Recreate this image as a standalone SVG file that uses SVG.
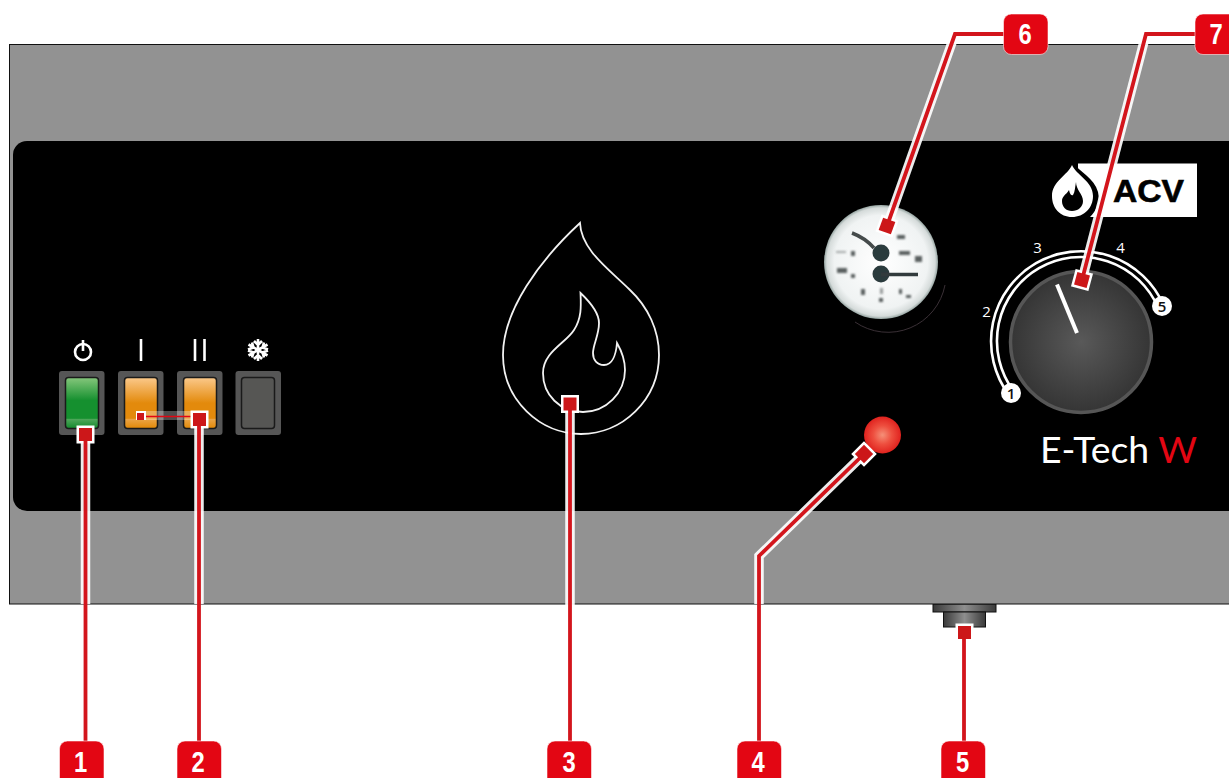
<svg xmlns="http://www.w3.org/2000/svg" width="1229" height="778" viewBox="0 0 1229 778">
<style>
.sw{fill:#565656}
.in{stroke:#1a1a1a;stroke-width:1.5}
.sym{fill:none;stroke:#fff;stroke-width:2.6}
.halo{fill:none;stroke:#fff;stroke-width:9.500;opacity:.92;filter:url(#soft)}
.ln{fill:none;stroke:#d3151c;stroke-width:3.800}
.sq{fill:#cc1719}
.sqh{fill:#fff;filter:url(#soft)}
.bd{fill:#e30613;stroke:#fff;stroke-opacity:.55;stroke-width:1}
.bt{font-family:"Liberation Sans",sans-serif;font-weight:700;font-size:29px;fill:#fff;text-anchor:middle}
.num{font-family:"Open Sans","Liberation Sans",sans-serif;font-size:15px;fill:#fff;text-anchor:middle}
.numd{font-family:"Open Sans","Liberation Sans",sans-serif;font-size:15px;font-weight:600;fill:#111;text-anchor:middle}
.fl{fill:none;stroke:#f2f2f2;stroke-width:1.800}
</style>
<defs>
<filter id="soft" x="-30%" y="-30%" width="160%" height="160%"><feGaussianBlur stdDeviation=".7"/></filter>
<filter id="blur" x="-20%" y="-20%" width="140%" height="140%"><feGaussianBlur stdDeviation="1.300"/></filter>
<linearGradient id="g" x1="0" y1="0" x2="0" y2="1"><stop offset="0" stop-color="#86c77c"/><stop offset=".45" stop-color="#15902f"/><stop offset=".8" stop-color="#15902f"/><stop offset=".82" stop-color="#4ea65a"/><stop offset="1" stop-color="#12892c"/></linearGradient>
<linearGradient id="o" x1="0" y1="0" x2="0" y2="1"><stop offset="0" stop-color="#fbc98b"/><stop offset=".5" stop-color="#e38a0c"/><stop offset=".8" stop-color="#e38a0c"/><stop offset=".82" stop-color="#eba445"/><stop offset="1" stop-color="#e28805"/></linearGradient>
<radialGradient id="kn"><stop offset="0" stop-color="#595959"/><stop offset="1" stop-color="#353535"/></radialGradient>
<radialGradient id="lamp"><stop offset="0" stop-color="#f59078"/><stop offset=".5" stop-color="#ee4f3f"/><stop offset="1" stop-color="#e0221e"/></radialGradient>
<radialGradient id="gg"><stop offset="0" stop-color="#fff"/><stop offset=".82" stop-color="#f0f3f3"/><stop offset=".95" stop-color="#d5dbda"/><stop offset="1" stop-color="#96a5a2"/></radialGradient>
<linearGradient id="m" x1="0" y1="0" x2="1" y2="0"><stop offset="0" stop-color="#3a3a3a"/><stop offset=".5" stop-color="#8e8e8e"/><stop offset="1" stop-color="#3a3a3a"/></linearGradient>
</defs>
<rect width="1229" height="778" fill="#fff"/>

<g id="housing">
<rect x="933" y="604" width="63" height="8" fill="url(#m)" stroke="#111"/>
<rect x="943.500" y="612" width="42" height="15" fill="url(#m)" stroke="#111"/>
<rect x="9.500" y="44.500" width="1225" height="559.500" fill="#929292" stroke="#111" stroke-width="1"/>
<rect x="13" y="141" width="1230" height="370" rx="14" fill="#000"/>
</g>

<g id="switch-power">
<rect class="sw" x="59" y="371" width="45.500" height="64" rx="3"/>
<rect class="in" x="65.500" y="377.500" width="33" height="51" rx="3" fill="url(#g)"/>
<circle class="sym" cx="83" cy="352" r="8"/><path class="sym" d="M83 340V351"/>
</g>
<g id="switch-1">
<rect class="sw" x="118" y="371" width="45.500" height="64" rx="3"/>
<rect class="in" x="124.500" y="377.500" width="33" height="51" rx="3" fill="url(#o)"/>
<path class="sym" d="M141 339V361"/>
</g>
<g id="switch-2">
<rect class="sw" x="177" y="371" width="45.500" height="64" rx="3"/>
<rect class="in" x="183.500" y="377.500" width="33" height="51" rx="3" fill="url(#o)"/>
<path class="sym" d="M195 339V361M204.500 339V361"/>
</g>
<g id="switch-frost">
<rect class="sw" x="235.500" y="371" width="45.500" height="64" rx="3"/>
<rect class="in" x="241.500" y="377.500" width="33" height="51" rx="3" fill="#565654"/>
<path class="sym" stroke-width="2.4" d="M258 339V361M248.500 344.500L267.500 355.500M248.500 355.500L267.500 344.500M254 341L258 345L262 341M254 359L258 355L262 359M248 349.500L253.500 347.500L252 342.500M268 349.500L262.500 347.500L264 342.500M248 350.500L253.500 352.500L252 357.500M268 350.500L262.500 352.500L264 357.500"/>
</g>

<g id="flame">
<path class="fl" d="M580 223C581 250 610 270 630 290C648 307 659 330 659 355C659 400 622 434 581 434C540 434 503 400 503 355C503 310 540 260 580 223Z"/>
<path class="fl" d="M580.500 293C581 305 582 318 574 330C566 343 543 352 543 373C543 395 560 412 583 412C606 412 625 393 625 370C625 358 621 350 617 343C616 355 612 365 604 365C597 365 593 360 593 353C593 345 599 335 599 323C599 312 590 302 580.500 293Z"/>
</g>

<g id="gauge">
<path d="M945 285A58 58 0 0 1 855 322" fill="none" stroke="#3a3036" stroke-width="1"/>
<g filter="url(#soft)"><circle cx="881" cy="262" r="57" fill="url(#gg)"/></g>
<g filter="url(#blur)" fill="#5a6060">
<rect x="897" y="235" width="8" height="4"/><rect x="899" y="251" width="11" height="4"/><rect x="915" y="256" width="7" height="6"/>
<rect x="837" y="268" width="10" height="5"/><rect x="851" y="274" width="4" height="4"/><rect x="851" y="251" width="4" height="5"/><rect x="836" y="251" width="10" height="2" opacity=".5"/>
<rect x="861" y="289" width="4" height="6"/><rect x="880" y="288" width="3" height="6" opacity=".6"/><rect x="879" y="298" width="4" height="4"/><rect x="899" y="289" width="3" height="5"/><rect x="906" y="295" width="5" height="3"/>
</g>
<g filter="url(#soft)">
<path d="M852 233C860 236 867 240 874 248" stroke="#444b4c" stroke-width="3.500" fill="none"/>
<circle cx="881" cy="253" r="8.500" fill="#2c3a3d"/>
<circle cx="881" cy="274" r="8.500" fill="#2c3a3d"/>
<path d="M881 274.500H918" stroke="#333b3c" stroke-width="3.500"/>
</g>
</g>

<g id="logo">
<rect x="1078" y="163.500" width="119" height="53.500" fill="#fff"/>
<path d="M1072 162C1080 172 1094 178 1098 192C1101 204 1094 214 1087 220L1078 220L1078 162Z" fill="#000"/>
<path d="M1072 165C1076 175 1093 181 1093 196C1093 208 1084 217 1072 217C1060 217 1052 208 1052 196C1052 181 1068 175 1072 165Z" fill="#fff"/>
<path d="M1076 182C1076 190 1083 194 1083 201C1083 207 1078 211 1072 211C1066 211 1062 207 1062 201C1062 196 1066 195 1069 190C1070 195 1072 196 1073 195C1075 192 1075 187 1076 182Z" fill="#000"/>
<text x="1113" y="202" font-family="'Liberation Sans',sans-serif" font-weight="700" font-size="31" textLength="71" lengthAdjust="spacingAndGlyphs" fill="#000" stroke="#000" stroke-width=".6">ACV</text>
</g>

<g id="dial">
<path d="M1008.700 394.700A90 90 0 1 1 1163.600 305.300" fill="none" stroke="#fff" stroke-width="2.600"/>
<path d="M1013.500 391A84 84 0 1 1 1158.100 307.700" fill="none" stroke="#fff" stroke-width="2.600"/>
<circle cx="1081" cy="342" r="70.500" fill="url(#kn)" stroke="#565656" stroke-width="3.500"/>
<path d="M1057 284.500L1077 333" stroke="#fff" stroke-width="4"/>
<circle cx="1011" cy="393" r="10" fill="#fff"/>
<circle cx="1162" cy="306" r="10" fill="#fff"/>
<text class="numd" x="1011" y="398.500">1</text>
<text class="numd" x="1162" y="311.500">5</text>
<text class="num" x="986.500" y="317">2</text>
<text class="num" x="1037.500" y="253">3</text>
<text class="num" x="1120.500" y="253">4</text>
</g>

<text id="model" x="1040" y="463" font-family="Lato,'Open Sans',sans-serif" font-weight="400" font-size="36" fill="#fff" textLength="157" lengthAdjust="spacingAndGlyphs">E-Tech <tspan fill="#e30613">W</tspan></text>

<g id="lamp-node"><circle cx="882.500" cy="435" r="18.500" fill="url(#lamp)"/></g>

<g id="connectors">
<path class="halo" d="M85.500 434V604M199 420V604M570 404V740"/>
<path class="halo" d="M864 454L759 556V604"/>
<path class="halo" d="M887 226L955 34"/>
<path class="halo" d="M1082 280L1146 34"/>
<path d="M141 415.500H193" stroke="#fff" stroke-width="9" opacity=".3"/>
<path d="M141 416.500H199" stroke="#e30613" stroke-width="1.500"/>
<rect class="sqh" x="136" y="411" width="10" height="9"/>
<rect class="sqh" x="76.500" y="425.500" width="18" height="18"/>
<rect class="sqh" x="190.500" y="410.500" width="18" height="18"/>
<rect class="sqh" x="561" y="395" width="18" height="18"/>
<rect class="sqh" x="955.500" y="623.500" width="18" height="18"/>
<rect class="sqh" x="855" y="445" width="18" height="18" transform="rotate(45 864 454)"/>
<rect class="sqh" x="878" y="217" width="18" height="18" transform="rotate(20 887 226)"/>
<rect class="sqh" x="1073" y="271" width="18" height="18" transform="rotate(15 1082 280)"/>
<path class="ln" d="M85.500 434V741M199 420V741M570 404V741M964 632V742"/>
<path class="ln" d="M864 454L759 556V741"/>
<path class="ln" d="M887 226L955 34H1004"/>
<path class="ln" d="M1082 280L1146 34H1196"/>
<rect class="sq" x="137" y="413" width="7" height="7"/>
<rect class="sq" x="79" y="428" width="13" height="13"/>
<rect class="sq" x="193" y="413" width="13" height="13"/>
<rect class="sq" x="563.500" y="397.500" width="13" height="13"/>
<rect class="sq" x="958" y="626" width="13" height="13"/>
<rect class="sq" x="857.500" y="447.500" width="13" height="13" transform="rotate(45 864 454)"/>
<rect class="sq" x="880.500" y="219.500" width="13" height="13" transform="rotate(20 887 226)"/>
<rect class="sq" x="1075.500" y="273.500" width="13" height="13" transform="rotate(15 1082 280)"/>
</g>

<g id="badge-1"><rect class="bd" x="59.500" y="741" width="44.500" height="46" rx="8"/><text class="bt" transform="translate(80.500 772) scale(.82 1)">1</text></g>
<g id="badge-2"><rect class="bd" x="177" y="741" width="44.500" height="46" rx="8"/><text class="bt" transform="translate(198 772) scale(.82 1)">2</text></g>
<g id="badge-3"><rect class="bd" x="547" y="741" width="44.500" height="46" rx="8"/><text class="bt" transform="translate(569 772) scale(.82 1)">3</text></g>
<g id="badge-4"><rect class="bd" x="737" y="741" width="44.500" height="46" rx="8"/><text class="bt" transform="translate(758 772) scale(.82 1)">4</text></g>
<g id="badge-5"><rect class="bd" x="941" y="741" width="44.500" height="46" rx="8"/><text class="bt" transform="translate(962.500 772) scale(.82 1)">5</text></g>
<g id="badge-6"><rect class="bd" x="1003.500" y="14" width="44.500" height="40.500" rx="8"/><text class="bt" transform="translate(1025 44) scale(.82 1)">6</text></g>
<g id="badge-7"><rect class="bd" x="1195" y="14" width="44.500" height="40.500" rx="8"/><text class="bt" transform="translate(1216 44) scale(.82 1)">7</text></g>
</svg>
